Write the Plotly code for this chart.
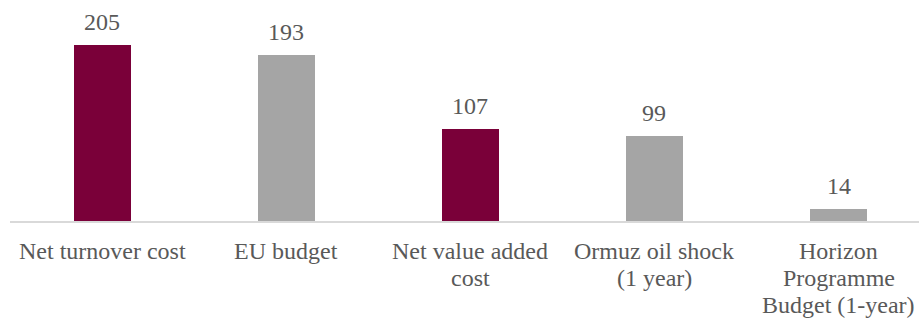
import plotly.graph_objects as go

categories = [
    "Net turnover cost",
    "EU budget",
    "Net value added<br>cost",
    "Ormuz oil shock<br>(1 year)",
    "Horizon<br>Programme<br>Budget (1-year)",
]
values = [205, 193, 107, 99, 14]
highlight = [True, False, True, False, False]

MAROON = "#7A0039"
GREY = "#A5A5A5"
TEXT = "#595959"
FONT = "Liberation Serif"
SIZE = 24
LINE_GAP = 27  # pixels between category-label baselines

x = list(range(len(categories)))
colors = [MAROON if h else GREY for h in highlight]

fig = go.Figure(
    go.Bar(
        x=x,
        y=values,
        marker=dict(color=colors, line=dict(width=0)),
        width=0.31,
        hoverinfo="skip",
    )
)

# value labels above bars
for xi, v in zip(x, values):
    fig.add_annotation(
        x=xi, y=v, text=str(v), showarrow=False,
        yanchor="bottom", yshift=8,
        font=dict(family=FONT, size=SIZE, color=TEXT),
    )

# category labels under the axis, one annotation per line for tight leading
for xi, label in zip(x, categories):
    for i, line in enumerate(label.split("<br>")):
        fig.add_annotation(
            x=xi, y=0, text=line, showarrow=False,
            yanchor="top", yshift=-(15 + LINE_GAP * i),
            font=dict(family=FONT, size=SIZE, color=TEXT),
        )

fig.update_layout(
    width=919, height=320,
    margin=dict(l=10, r=0, t=10, b=99),
    paper_bgcolor="white", plot_bgcolor="white",
    showlegend=False,
    bargap=0,
    font=dict(family=FONT, color=TEXT),
)
fig.update_xaxes(
    range=[-0.5, 4.437],
    tickmode="array", tickvals=x, ticktext=[""] * len(x),
    showline=True, linecolor="#D9D9D9", linewidth=2,
    showgrid=False, zeroline=False, ticks="",
    automargin=False,
)
fig.update_yaxes(
    range=[0, 245.8], visible=False, showgrid=False, zeroline=False,
    automargin=False,
)

fig.write_html("out.html")
